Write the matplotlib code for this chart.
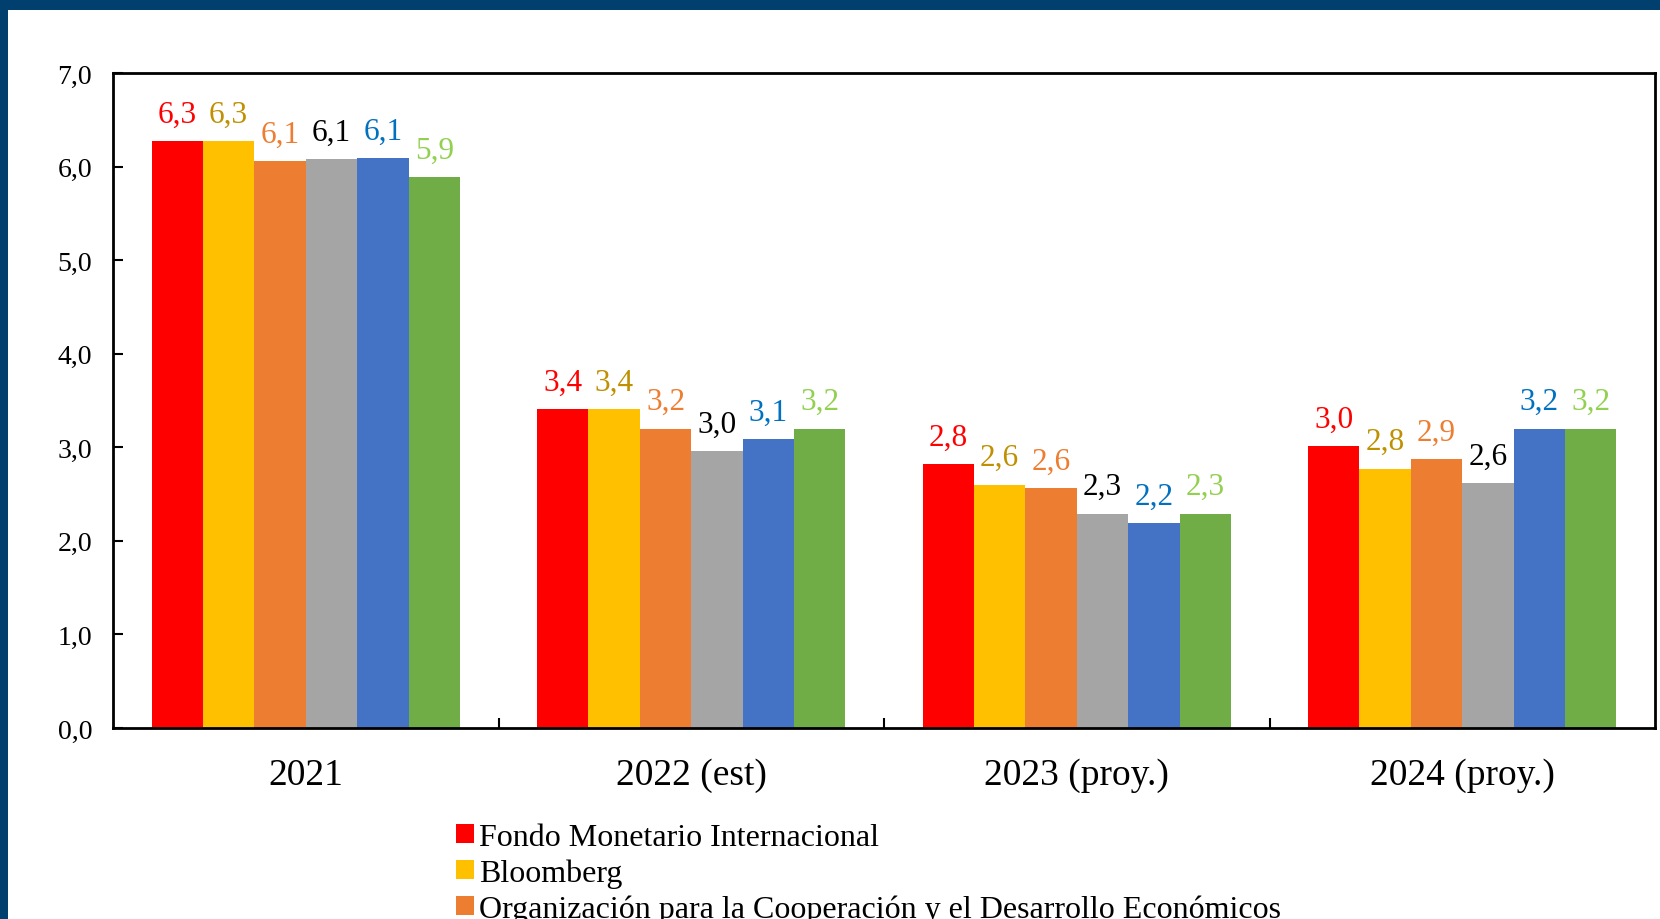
import matplotlib
matplotlib.use("Agg")
import matplotlib.pyplot as plt
from matplotlib.patches import Rectangle, Patch
import numpy as np

categories = ["2021", "2022 (est)", "2023 (proy.)", "2024 (proy.)"]
fmi = [6.27, 3.41, 2.82, 3.01]
bloomberg = [6.27, 3.41, 2.60, 2.77]
ocde = [6.06, 3.20, 2.56, 2.87]
serie4 = [6.08, 2.96, 2.29, 2.62]
serie5 = [6.09, 3.09, 2.19, 3.20]
serie6 = [5.89, 3.20, 2.29, 3.20]

series = [fmi, bloomberg, ocde, serie4, serie5, serie6]
bar_colors = ["#FF0000", "#FFC000", "#ED7D31", "#A5A5A5", "#4472C4", "#70AD47"]
label_colors = ["#FF0000", "#BF9000", "#ED7D31", "#000000", "#0070C0", "#92D050"]
legend_labels = ["Fondo Monetario Internacional", "Bloomberg",
                 "Organización para la Cooperación y el Desarrollo Económicos"]
yticks = [0, 1, 2, 3, 4, 5, 6, 7]

plt.rcParams['font.family'] = ['Liberation Serif', 'DejaVu Serif']

W, H = 1660, 920
fig = plt.figure(figsize=(W / 100, H / 100), dpi=100)
fig.patch.set_facecolor("white")

# dark blue frame bands (top and left)
navy = "#013F6E"
fig.add_artist(Rectangle((0, 1 - 11 / H), 1, 11 / H, transform=fig.transFigure,
                         facecolor=navy, edgecolor="none", zorder=0))
fig.add_artist(Rectangle((0, 0), 8 / W, 1, transform=fig.transFigure,
                         facecolor=navy, edgecolor="none", zorder=0))

left, right = 113 / W, 1655 / W
bottom, top = 1 - 729 / H, 1 - 74 / H
ax = fig.add_axes([left, bottom, right - left, top - bottom])

n = len(series)
group_w = 0.8
bw = group_w / n
x = np.arange(len(categories))
for i, (vals, c, lc) in enumerate(zip(series, bar_colors, label_colors)):
    pos = x - group_w / 2 + bw * (i + 0.5)
    ax.bar(pos, vals, width=bw, color=c, edgecolor="none", zorder=2)
    for p, v in zip(pos, vals):
        ax.annotate(f"{v:.1f}".replace(".", ","), (p, v), xytext=(0, 9),
                    textcoords="offset points", ha="center", va="bottom",
                    fontsize=22.5, color=lc)

ax.set_xlim(-0.5, len(categories) - 0.5)
ax.set_ylim(0, 7)
ax.set_yticks(yticks)
ax.set_yticklabels([f"{t:.1f}".replace(".", ",") for t in yticks], fontsize=20)
ax.set_xticks(x)
ax.set_xticklabels(categories, fontsize=27)
ax.set_xticks(np.arange(len(categories) - 1) + 0.5, minor=True)
ax.tick_params(axis="x", which="major", length=0, pad=21)
ax.tick_params(axis="x", which="minor", direction="in", length=7, width=1.5)
ax.tick_params(axis="y", direction="in", length=7, width=1.5, pad=15)
for s in ax.spines.values():
    s.set_linewidth(2)
    s.set_color("black")

handles = [Patch(facecolor=c, edgecolor="none") for c in bar_colors[:3]]
fig.legend(handles, legend_labels, loc="upper left",
           bbox_to_anchor=(456 / W, 1 - 824 / H), frameon=False,
           fontsize=23, handlelength=0.55, handleheight=0.55,
           handletextpad=0.18, labelspacing=0.2, borderpad=0, borderaxespad=0)

fig.savefig("out.png", dpi=100)
